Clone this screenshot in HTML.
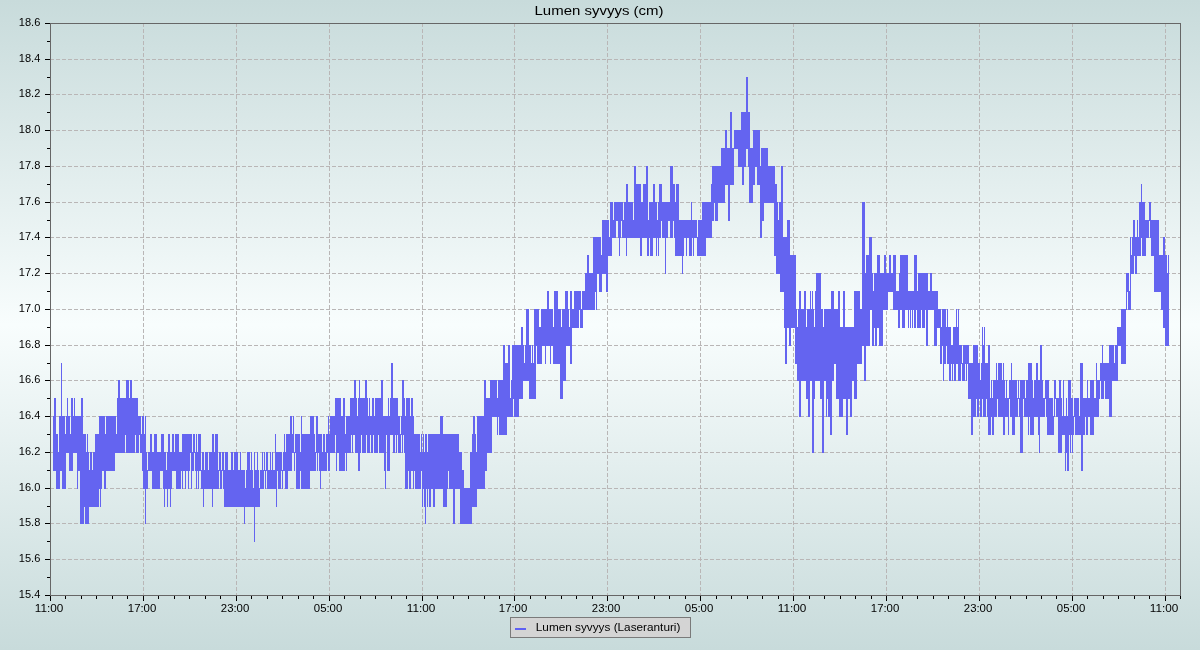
<!DOCTYPE html>
<html><head><meta charset="utf-8"><style>html,body{margin:0;padding:0;width:1200px;height:650px;overflow:hidden;background:#fff}</style></head>
<body><svg width="1200" height="650" viewBox="0 0 1200 650" style="position:absolute;left:0;top:0;will-change:transform">
<defs><linearGradient id="bg" x1="0" y1="0" x2="0" y2="1">
<stop offset="0" stop-color="#c8dbdb"/><stop offset="0.5" stop-color="#f8fdfd"/><stop offset="1" stop-color="#c8dbdb"/></linearGradient></defs>
<rect x="0" y="0" width="1200" height="650" fill="url(#bg)"/>
<path d="M50.5 23V595M143.5 23V595M236.5 23V595M329.5 23V595M422.5 23V595M514.5 23V595M607.5 23V595M700.5 23V595M793.5 23V595M886.5 23V595M979.5 23V595M1072.5 23V595M1165.5 23V595M50 23.5H1180M50 59.5H1180M50 94.5H1180M50 130.5H1180M50 166.5H1180M50 202.5H1180M50 237.5H1180M50 273.5H1180M50 309.5H1180M50 345.5H1180M50 380.5H1180M50 416.5H1180M50 452.5H1180M50 488.5H1180M50 523.5H1180M50 559.5H1180M50 595.5H1180" stroke="#b9b6b6" stroke-width="1" stroke-dasharray="4 2" fill="none"/>
<path d="M53 416h1v55h-1zM54 398h2v73h-2zM56 434h2v55h-2zM58 452h1v37h-1zM59 416h1v73h-1zM60 416h1v55h-1zM61 363h1v108h-1zM62 416h3v73h-3zM65 434h1v55h-1zM66 416h1v37h-1zM67 398h1v55h-1zM68 416h1v37h-1zM69 416h1v55h-1zM70 434h1v37h-1zM71 398h2v73h-2zM73 416h1v37h-1zM74 398h1v55h-1zM75 416h2v37h-2zM77 416h1v73h-1zM78 416h2v55h-2zM80 416h1v108h-1zM81 398h2v126h-2zM83 434h1v90h-1zM84 434h1v73h-1zM85 434h1v90h-1zM86 452h1v72h-1zM87 434h1v90h-1zM88 452h1v72h-1zM89 470h1v37h-1zM90 452h2v55h-2zM92 470h1v37h-1zM93 452h2v55h-2zM95 434h4v73h-4zM99 416h1v73h-1zM100 416h1v91h-1zM101 416h1v73h-1zM102 416h2v55h-2zM104 416h1v73h-1zM105 434h1v55h-1zM106 416h9v55h-9zM115 416h1v37h-1zM116 434h1v19h-1zM117 398h1v55h-1zM118 380h2v73h-2zM120 398h5v55h-5zM125 398h1v37h-1zM126 380h3v73h-3zM129 398h1v55h-1zM130 380h2v73h-2zM132 398h3v55h-3zM135 398h1v37h-1zM136 398h2v55h-2zM138 416h1v37h-1zM139 416h1v19h-1zM140 416h1v37h-1zM141 434h1v19h-1zM142 416h1v55h-1zM143 416h1v73h-1zM144 434h1v55h-1zM145 416h1v108h-1zM146 452h1v37h-1zM147 470h1v19h-1zM148 452h2v19h-2zM150 434h2v37h-2zM152 452h2v37h-2zM154 434h3v55h-3zM157 452h3v37h-3zM160 452h1v19h-1zM161 434h2v37h-2zM163 434h1v55h-1zM164 452h1v55h-1zM165 452h1v37h-1zM166 470h1v19h-1zM167 452h1v55h-1zM168 434h2v55h-2zM170 452h1v55h-1zM171 452h1v37h-1zM172 434h2v37h-2zM174 452h1v19h-1zM175 434h1v37h-1zM176 434h3v55h-3zM179 452h2v37h-2zM181 452h1v19h-1zM182 434h1v55h-1zM183 434h2v37h-2zM185 434h1v55h-1zM186 434h2v37h-2zM188 434h1v55h-1zM189 434h1v37h-1zM190 434h1v19h-1zM191 434h1v55h-1zM192 452h1v19h-1zM193 434h1v37h-1zM194 434h1v19h-1zM195 452h1v19h-1zM196 434h1v55h-1zM197 452h1v19h-1zM198 434h1v55h-1zM199 434h2v37h-2zM201 470h1v19h-1zM202 452h1v37h-1zM203 452h1v55h-1zM204 470h1v19h-1zM205 452h3v37h-3zM208 470h1v19h-1zM209 452h3v37h-3zM212 434h1v73h-1zM213 434h1v55h-1zM214 452h1v37h-1zM215 434h3v55h-3zM218 470h1v19h-1zM219 452h1v19h-1zM220 452h1v37h-1zM221 470h1v19h-1zM222 452h1v19h-1zM223 452h1v37h-1zM224 470h1v37h-1zM225 452h3v55h-3zM228 470h3v37h-3zM231 452h2v55h-2zM233 470h1v37h-1zM234 452h4v55h-4zM238 470h2v37h-2zM240 452h1v55h-1zM241 470h3v37h-3zM244 470h1v54h-1zM245 488h1v19h-1zM246 470h1v37h-1zM247 452h3v55h-3zM250 470h1v37h-1zM251 452h1v55h-1zM252 470h1v37h-1zM253 488h1v19h-1zM254 452h1v90h-1zM255 470h2v37h-2zM257 452h1v55h-1zM258 470h1v37h-1zM259 488h1v19h-1zM260 470h2v19h-2zM262 452h1v37h-1zM263 470h1v19h-1zM264 452h1v19h-1zM265 470h1v19h-1zM266 452h1v19h-1zM267 452h1v37h-1zM268 470h2v19h-2zM270 452h1v37h-1zM271 470h1v19h-1zM272 452h1v37h-1zM273 470h2v19h-2zM275 434h1v55h-1zM276 452h1v55h-1zM277 452h1v19h-1zM278 452h3v37h-3zM281 452h1v19h-1zM282 470h1v19h-1zM283 452h1v19h-1zM284 434h1v37h-1zM285 452h1v37h-1zM286 434h2v55h-2zM288 434h2v37h-2zM290 416h2v55h-2zM292 434h1v19h-1zM293 416h1v37h-1zM294 452h1v19h-1zM295 434h1v19h-1zM296 434h4v55h-4zM300 452h1v19h-1zM301 416h1v73h-1zM302 434h8v55h-8zM310 416h4v55h-4zM314 434h1v37h-1zM315 452h1v19h-1zM316 416h1v37h-1zM317 416h1v55h-1zM318 434h1v19h-1zM319 434h1v37h-1zM320 434h1v55h-1zM321 434h1v37h-1zM322 452h1v19h-1zM323 434h2v37h-2zM325 452h1v19h-1zM326 434h1v37h-1zM327 434h1v19h-1zM328 416h1v55h-1zM329 434h1v37h-1zM330 416h5v37h-5zM335 398h1v37h-1zM336 398h1v73h-1zM337 398h2v55h-2zM339 398h2v73h-2zM341 416h2v55h-2zM343 398h2v73h-2zM345 434h1v19h-1zM346 416h1v55h-1zM347 416h3v37h-3zM350 398h1v55h-1zM351 398h1v37h-1zM352 398h1v55h-1zM353 398h1v37h-1zM354 380h1v55h-1zM355 380h1v73h-1zM356 398h1v55h-1zM357 416h1v37h-1zM358 398h1v73h-1zM359 380h1v91h-1zM360 398h1v55h-1zM361 398h1v37h-1zM362 398h3v55h-3zM365 380h1v73h-1zM366 380h1v55h-1zM367 398h1v55h-1zM368 416h1v37h-1zM369 398h1v55h-1zM370 416h1v19h-1zM371 416h1v37h-1zM372 398h1v55h-1zM373 398h1v37h-1zM374 416h1v37h-1zM375 398h3v55h-3zM378 398h1v37h-1zM379 398h2v55h-2zM381 380h2v73h-2zM383 416h1v37h-1zM384 416h1v55h-1zM385 416h1v73h-1zM386 416h1v19h-1zM387 416h1v55h-1zM388 398h1v73h-1zM389 416h1v55h-1zM390 398h1v37h-1zM391 363h2v72h-2zM393 398h2v55h-2zM395 398h1v37h-1zM396 398h1v55h-1zM397 398h1v37h-1zM398 416h2v37h-2zM400 434h1v19h-1zM401 416h1v19h-1zM402 380h1v73h-1zM403 380h1v55h-1zM404 398h1v55h-1zM405 416h1v73h-1zM406 398h2v91h-2zM408 398h1v73h-1zM409 398h1v91h-1zM410 416h1v73h-1zM411 398h2v73h-2zM413 416h1v73h-1zM414 434h1v37h-1zM415 434h5v55h-5zM420 452h1v37h-1zM421 434h1v37h-1zM422 452h1v55h-1zM423 434h1v55h-1zM424 452h1v55h-1zM425 434h1v90h-1zM426 434h1v55h-1zM427 452h1v55h-1zM428 434h1v55h-1zM429 434h2v73h-2zM431 434h2v55h-2zM433 434h2v73h-2zM435 434h5v55h-5zM440 416h3v73h-3zM443 434h4v73h-4zM447 434h1v55h-1zM448 434h1v37h-1zM449 434h4v55h-4zM453 434h2v90h-2zM455 434h4v55h-4zM459 452h1v37h-1zM460 452h2v72h-2zM462 470h2v54h-2zM464 488h6v36h-6zM470 452h2v72h-2zM472 434h1v73h-1zM473 416h2v91h-2zM475 434h1v73h-1zM476 452h1v55h-1zM477 416h7v73h-7zM484 380h1v109h-1zM485 380h1v91h-1zM486 398h1v73h-1zM487 398h3v55h-3zM490 380h2v73h-2zM492 380h5v37h-5zM497 398h1v37h-1zM498 380h1v37h-1zM499 380h4v55h-4zM503 345h2v90h-2zM505 363h2v72h-2zM507 363h1v54h-1zM508 345h2v72h-2zM510 398h1v19h-1zM511 380h1v37h-1zM512 345h1v72h-1zM513 345h1v54h-1zM514 345h5v72h-5zM519 345h2v54h-2zM521 327h2v72h-2zM523 345h1v36h-1zM524 363h1v18h-1zM525 345h1v36h-1zM526 309h3v72h-3zM529 345h2v54h-2zM531 363h1v36h-1zM532 345h1v54h-1zM533 363h1v36h-1zM534 309h2v90h-2zM536 309h1v37h-1zM537 309h2v55h-2zM539 327h2v37h-2zM541 309h1v55h-1zM542 309h3v37h-3zM545 309h1v55h-1zM546 309h1v37h-1zM547 291h2v55h-2zM549 309h1v37h-1zM550 309h1v55h-1zM551 309h2v37h-2zM553 327h1v37h-1zM554 291h4v73h-4zM558 309h2v55h-2zM560 309h1v90h-1zM561 327h1v72h-1zM562 309h1v90h-1zM563 309h2v72h-2zM565 291h1v90h-1zM566 291h2v55h-2zM568 309h1v37h-1zM569 327h1v19h-1zM570 291h2v73h-2zM572 309h2v19h-2zM574 291h5v37h-5zM579 291h1v19h-1zM580 291h1v37h-1zM581 309h1v19h-1zM582 291h1v37h-1zM583 291h2v19h-2zM585 273h2v37h-2zM587 255h2v55h-2zM589 273h4v37h-4zM593 237h2v73h-2zM595 237h1v55h-1zM596 237h1v73h-1zM597 237h2v37h-2zM599 237h2v55h-2zM601 255h1v37h-1zM602 220h4v54h-4zM606 220h2v72h-2zM608 220h1v36h-1zM609 237h1v19h-1zM610 202h2v54h-2zM612 202h1v36h-1zM613 220h1v18h-1zM614 202h2v36h-2zM616 202h2v19h-2zM618 202h1v36h-1zM619 202h1v54h-1zM620 202h1v36h-1zM621 202h1v19h-1zM622 202h1v36h-1zM623 220h1v18h-1zM624 202h2v36h-2zM626 184h1v72h-1zM627 184h1v54h-1zM628 202h5v36h-5zM633 220h1v18h-1zM634 166h2v72h-2zM636 184h4v54h-4zM640 184h1v72h-1zM641 202h1v54h-1zM642 202h1v36h-1zM643 184h3v54h-3zM646 166h1v72h-1zM647 166h1v90h-1zM648 220h1v36h-1zM649 202h1v36h-1zM650 202h3v54h-3zM653 184h2v54h-2zM655 202h1v36h-1zM656 202h1v54h-1zM657 220h1v18h-1zM658 202h1v54h-1zM659 184h2v54h-2zM661 184h1v37h-1zM662 202h3v36h-3zM665 202h1v72h-1zM666 202h2v36h-2zM668 202h2v19h-2zM670 166h3v72h-3zM673 184h1v37h-1zM674 184h1v54h-1zM675 202h1v54h-1zM676 184h3v72h-3zM679 220h3v36h-3zM682 220h1v54h-1zM683 220h1v36h-1zM684 220h2v18h-2zM686 220h1v36h-1zM687 220h2v18h-2zM689 220h2v36h-2zM691 202h1v54h-1zM692 220h1v18h-1zM693 220h1v36h-1zM694 220h3v18h-3zM697 237h1v19h-1zM698 220h4v36h-4zM702 202h4v54h-4zM706 202h5v36h-5zM711 184h1v54h-1zM712 166h2v55h-2zM714 166h1v37h-1zM715 166h3v55h-3zM718 166h3v37h-3zM721 148h4v55h-4zM725 130h2v55h-2zM727 148h1v37h-1zM728 148h2v73h-2zM730 112h2v73h-2zM732 148h2v37h-2zM734 130h4v19h-4zM738 130h3v37h-3zM741 112h1v55h-1zM742 112h2v73h-2zM744 112h2v55h-2zM746 77h2v72h-2zM748 112h1v55h-1zM749 112h1v91h-1zM750 148h3v55h-3zM753 130h2v55h-2zM755 130h2v37h-2zM757 130h3v55h-3zM760 166h1v72h-1zM761 148h1v90h-1zM762 148h2v73h-2zM764 148h4v55h-4zM768 166h6v37h-6zM774 166h1v90h-1zM775 184h1v72h-1zM776 184h1v90h-1zM777 202h1v72h-1zM778 220h1v54h-1zM779 202h1v72h-1zM780 202h1v90h-1zM781 166h2v126h-2zM783 237h1v55h-1zM784 237h1v91h-1zM785 237h2v127h-2zM787 220h2v108h-2zM789 220h1v126h-1zM790 255h1v91h-1zM791 255h4v73h-4zM795 255h1v109h-1zM796 309h1v55h-1zM797 327h1v54h-1zM798 309h1v72h-1zM799 291h2v126h-2zM801 309h3v72h-3zM804 291h2v90h-2zM806 327h1v72h-1zM807 309h1v90h-1zM808 309h2v108h-2zM810 291h1v90h-1zM811 309h1v72h-1zM812 291h1v162h-1zM813 309h1v144h-1zM814 327h1v72h-1zM815 291h1v90h-1zM816 273h4v108h-4zM820 273h1v126h-1zM821 309h1v90h-1zM822 309h1v144h-1zM823 327h1v126h-1zM824 309h2v72h-2zM826 309h1v108h-1zM827 309h1v90h-1zM828 309h2v108h-2zM830 309h1v126h-1zM831 291h1v144h-1zM832 291h2v90h-2zM834 309h2v55h-2zM836 309h2v90h-2zM838 291h1v108h-1zM839 291h1v126h-1zM840 327h3v90h-3zM843 291h2v108h-2zM845 327h1v72h-1zM846 327h2v108h-2zM848 327h2v72h-2zM850 327h2v90h-2zM852 327h2v54h-2zM854 291h3v108h-3zM857 291h3v73h-3zM860 309h2v55h-2zM862 202h2v144h-2zM864 202h1v179h-1zM865 273h1v108h-1zM866 255h3v91h-3zM869 237h1v109h-1zM870 237h2v73h-2zM872 273h1v73h-1zM873 291h1v55h-1zM874 273h1v55h-1zM875 273h2v73h-2zM877 255h2v73h-2zM879 255h1v91h-1zM880 273h3v73h-3zM883 273h1v37h-1zM884 255h2v55h-2zM886 273h2v37h-2zM888 273h1v19h-1zM889 255h2v37h-2zM891 273h2v19h-2zM893 255h3v55h-3zM896 291h2v19h-2zM898 291h1v37h-1zM899 273h1v55h-1zM900 255h2v55h-2zM902 255h3v73h-3zM905 255h3v55h-3zM908 291h1v37h-1zM909 291h1v19h-1zM910 291h1v37h-1zM911 291h1v19h-1zM912 291h1v37h-1zM913 291h1v19h-1zM914 255h2v73h-2zM916 255h1v55h-1zM917 291h1v37h-1zM918 273h3v55h-3zM921 273h1v37h-1zM922 273h3v55h-3zM925 273h1v37h-1zM926 273h2v73h-2zM928 291h2v19h-2zM930 273h2v37h-2zM932 291h2v19h-2zM934 291h3v55h-3zM937 291h1v37h-1zM938 309h2v19h-2zM940 309h1v55h-1zM941 327h1v37h-1zM942 309h1v37h-1zM943 309h1v72h-1zM944 309h2v55h-2zM946 327h1v19h-1zM947 309h1v55h-1zM948 327h1v37h-1zM949 327h2v54h-2zM951 345h1v19h-1zM952 345h1v36h-1zM953 327h1v37h-1zM954 327h2v54h-2zM956 309h1v55h-1zM957 327h1v37h-1zM958 309h1v72h-1zM959 345h2v36h-2zM961 345h1v19h-1zM962 363h1v18h-1zM963 345h2v36h-2zM965 345h1v19h-1zM966 345h1v36h-1zM967 345h1v19h-1zM968 345h1v54h-1zM969 363h2v36h-2zM971 363h2v72h-2zM973 345h3v72h-3zM976 345h1v54h-1zM977 345h1v72h-1zM978 363h1v54h-1zM979 363h1v36h-1zM980 380h1v37h-1zM981 363h1v54h-1zM982 327h1v72h-1zM983 345h1v72h-1zM984 327h1v90h-1zM985 363h1v54h-1zM986 363h1v36h-1zM987 363h1v54h-1zM988 345h2v90h-2zM990 398h1v37h-1zM991 380h1v37h-1zM992 398h1v37h-1zM993 380h1v55h-1zM994 380h2v37h-2zM996 363h1v54h-1zM997 380h1v19h-1zM998 363h4v54h-4zM1002 380h1v37h-1zM1003 363h1v72h-1zM1004 380h1v55h-1zM1005 398h1v19h-1zM1006 380h1v37h-1zM1007 398h1v19h-1zM1008 398h1v37h-1zM1009 380h1v19h-1zM1010 380h1v37h-1zM1011 363h1v54h-1zM1012 380h3v55h-3zM1015 380h2v37h-2zM1017 398h1v19h-1zM1018 380h1v19h-1zM1019 398h1v19h-1zM1020 380h3v73h-3zM1023 380h1v19h-1zM1024 380h1v37h-1zM1025 398h1v19h-1zM1026 380h2v37h-2zM1028 363h1v72h-1zM1029 363h1v54h-1zM1030 363h2v72h-2zM1032 380h1v55h-1zM1033 398h1v37h-1zM1034 380h2v37h-2zM1036 363h2v54h-2zM1038 380h1v55h-1zM1039 380h1v73h-1zM1040 345h2v72h-2zM1042 380h1v37h-1zM1043 398h2v19h-2zM1045 380h1v19h-1zM1046 380h1v37h-1zM1047 380h2v55h-2zM1049 398h4v37h-4zM1053 416h1v19h-1zM1054 380h1v37h-1zM1055 380h1v19h-1zM1056 398h2v19h-2zM1058 398h1v55h-1zM1059 380h2v73h-2zM1061 398h1v55h-1zM1062 416h1v19h-1zM1063 380h1v55h-1zM1064 416h1v19h-1zM1065 416h1v55h-1zM1066 398h1v55h-1zM1067 416h1v55h-1zM1068 380h1v91h-1zM1069 380h1v55h-1zM1070 380h1v73h-1zM1071 398h1v37h-1zM1072 398h1v55h-1zM1073 416h1v19h-1zM1074 398h1v19h-1zM1075 398h4v37h-4zM1079 416h1v19h-1zM1080 363h1v72h-1zM1081 363h2v108h-2zM1083 398h2v37h-2zM1085 398h1v19h-1zM1086 398h1v37h-1zM1087 380h1v55h-1zM1088 398h2v19h-2zM1090 380h4v55h-4zM1094 398h2v19h-2zM1096 363h1v54h-1zM1097 380h2v37h-2zM1099 380h1v19h-1zM1100 363h1v18h-1zM1101 363h1v36h-1zM1102 345h1v54h-1zM1103 363h1v36h-1zM1104 363h1v18h-1zM1105 363h4v36h-4zM1109 345h3v72h-3zM1112 345h2v36h-2zM1114 363h1v18h-1zM1115 345h2v36h-2zM1117 327h1v54h-1zM1118 327h3v19h-3zM1121 309h5v55h-5zM1126 273h1v37h-1zM1127 273h1v19h-1zM1128 273h1v37h-1zM1129 291h1v19h-1zM1130 237h1v73h-1zM1131 255h1v19h-1zM1132 237h1v37h-1zM1133 220h1v54h-1zM1134 220h1v36h-1zM1135 237h2v37h-2zM1137 220h1v36h-1zM1138 237h1v19h-1zM1139 202h2v54h-2zM1141 184h1v54h-1zM1142 202h3v54h-3zM1145 220h1v36h-1zM1146 220h3v18h-3zM1149 202h1v19h-1zM1150 202h1v36h-1zM1151 220h3v36h-3zM1154 220h5v72h-5zM1159 255h2v37h-2zM1161 255h2v55h-2zM1163 237h2v91h-2zM1165 255h2v91h-2zM1167 273h1v73h-1zM1168 255h1v91h-1z" fill="#6464f0" shape-rendering="crispEdges"/>
<path d="M50.5 23V596M50 23.5H1181M1180.5 23V596M50 595.5H1181" stroke="#666" stroke-width="1" fill="none" shape-rendering="crispEdges"/>
<path d="M45 23.5H50M47 41.5H50M45 59.5H50M47 77.5H50M45 94.5H50M47 112.5H50M45 130.5H50M47 148.5H50M45 166.5H50M47 184.5H50M45 202.5H50M47 220.5H50M45 237.5H50M47 255.5H50M45 273.5H50M47 291.5H50M45 309.5H50M47 327.5H50M45 345.5H50M47 363.5H50M45 380.5H50M47 398.5H50M45 416.5H50M47 434.5H50M45 452.5H50M47 470.5H50M45 488.5H50M47 506.5H50M45 523.5H50M47 541.5H50M45 559.5H50M47 577.5H50M45 595.5H50M50.5 596V601M65.5 596V599M81.5 596V599M96.5 596V599M112.5 596V599M127.5 596V599M143.5 596V601M158.5 596V599M174.5 596V599M189.5 596V599M205.5 596V599M220.5 596V599M236.5 596V601M251.5 596V599M267.5 596V599M282.5 596V599M298.5 596V599M313.5 596V599M329.5 596V601M344.5 596V599M360.5 596V599M375.5 596V599M391.5 596V599M406.5 596V599M422.5 596V601M437.5 596V599M453.5 596V599M468.5 596V599M484.5 596V599M499.5 596V599M514.5 596V601M530.5 596V599M545.5 596V599M561.5 596V599M576.5 596V599M592.5 596V599M607.5 596V601M623.5 596V599M638.5 596V599M654.5 596V599M669.5 596V599M685.5 596V599M700.5 596V601M716.5 596V599M731.5 596V599M747.5 596V599M762.5 596V599M778.5 596V599M793.5 596V601M809.5 596V599M824.5 596V599M840.5 596V599M855.5 596V599M871.5 596V599M886.5 596V601M902.5 596V599M917.5 596V599M933.5 596V599M948.5 596V599M964.5 596V599M979.5 596V601M995.5 596V599M1010.5 596V599M1026.5 596V599M1041.5 596V599M1056.5 596V599M1072.5 596V601M1087.5 596V599M1103.5 596V599M1118.5 596V599M1134.5 596V599M1149.5 596V599M1165.5 596V601M1180.5 596V599" stroke="#000" stroke-width="1" fill="none" shape-rendering="crispEdges"/>
<text x="534.5" y="14.6" font-family="Liberation Sans, sans-serif" font-size="13" textLength="129" lengthAdjust="spacingAndGlyphs" fill="#000">Lumen syvyys (cm)</text>
<text x="18.8" y="26" font-family="Liberation Sans, sans-serif" font-size="10.3" textLength="21.5" lengthAdjust="spacingAndGlyphs" fill="#000">18.6</text>
<text x="18.8" y="62" font-family="Liberation Sans, sans-serif" font-size="10.3" textLength="21.5" lengthAdjust="spacingAndGlyphs" fill="#000">18.4</text>
<text x="18.8" y="97" font-family="Liberation Sans, sans-serif" font-size="10.3" textLength="21.5" lengthAdjust="spacingAndGlyphs" fill="#000">18.2</text>
<text x="18.8" y="133" font-family="Liberation Sans, sans-serif" font-size="10.3" textLength="21.5" lengthAdjust="spacingAndGlyphs" fill="#000">18.0</text>
<text x="18.8" y="169" font-family="Liberation Sans, sans-serif" font-size="10.3" textLength="21.5" lengthAdjust="spacingAndGlyphs" fill="#000">17.8</text>
<text x="18.8" y="205" font-family="Liberation Sans, sans-serif" font-size="10.3" textLength="21.5" lengthAdjust="spacingAndGlyphs" fill="#000">17.6</text>
<text x="18.8" y="240" font-family="Liberation Sans, sans-serif" font-size="10.3" textLength="21.5" lengthAdjust="spacingAndGlyphs" fill="#000">17.4</text>
<text x="18.8" y="276" font-family="Liberation Sans, sans-serif" font-size="10.3" textLength="21.5" lengthAdjust="spacingAndGlyphs" fill="#000">17.2</text>
<text x="18.8" y="312" font-family="Liberation Sans, sans-serif" font-size="10.3" textLength="21.5" lengthAdjust="spacingAndGlyphs" fill="#000">17.0</text>
<text x="18.8" y="348" font-family="Liberation Sans, sans-serif" font-size="10.3" textLength="21.5" lengthAdjust="spacingAndGlyphs" fill="#000">16.8</text>
<text x="18.8" y="383" font-family="Liberation Sans, sans-serif" font-size="10.3" textLength="21.5" lengthAdjust="spacingAndGlyphs" fill="#000">16.6</text>
<text x="18.8" y="419" font-family="Liberation Sans, sans-serif" font-size="10.3" textLength="21.5" lengthAdjust="spacingAndGlyphs" fill="#000">16.4</text>
<text x="18.8" y="455" font-family="Liberation Sans, sans-serif" font-size="10.3" textLength="21.5" lengthAdjust="spacingAndGlyphs" fill="#000">16.2</text>
<text x="18.8" y="491" font-family="Liberation Sans, sans-serif" font-size="10.3" textLength="21.5" lengthAdjust="spacingAndGlyphs" fill="#000">16.0</text>
<text x="18.8" y="526" font-family="Liberation Sans, sans-serif" font-size="10.3" textLength="21.5" lengthAdjust="spacingAndGlyphs" fill="#000">15.8</text>
<text x="18.8" y="562" font-family="Liberation Sans, sans-serif" font-size="10.3" textLength="21.5" lengthAdjust="spacingAndGlyphs" fill="#000">15.6</text>
<text x="18.8" y="598" font-family="Liberation Sans, sans-serif" font-size="10.3" textLength="21.5" lengthAdjust="spacingAndGlyphs" fill="#000">15.4</text>
<text x="34.8" y="612" font-family="Liberation Sans, sans-serif" font-size="10.3" textLength="28.5" lengthAdjust="spacingAndGlyphs" fill="#000">11:00</text>
<text x="127.8" y="612" font-family="Liberation Sans, sans-serif" font-size="10.3" textLength="28.5" lengthAdjust="spacingAndGlyphs" fill="#000">17:00</text>
<text x="220.8" y="612" font-family="Liberation Sans, sans-serif" font-size="10.3" textLength="28.5" lengthAdjust="spacingAndGlyphs" fill="#000">23:00</text>
<text x="313.8" y="612" font-family="Liberation Sans, sans-serif" font-size="10.3" textLength="28.5" lengthAdjust="spacingAndGlyphs" fill="#000">05:00</text>
<text x="406.8" y="612" font-family="Liberation Sans, sans-serif" font-size="10.3" textLength="28.5" lengthAdjust="spacingAndGlyphs" fill="#000">11:00</text>
<text x="498.8" y="612" font-family="Liberation Sans, sans-serif" font-size="10.3" textLength="28.5" lengthAdjust="spacingAndGlyphs" fill="#000">17:00</text>
<text x="591.8" y="612" font-family="Liberation Sans, sans-serif" font-size="10.3" textLength="28.5" lengthAdjust="spacingAndGlyphs" fill="#000">23:00</text>
<text x="684.8" y="612" font-family="Liberation Sans, sans-serif" font-size="10.3" textLength="28.5" lengthAdjust="spacingAndGlyphs" fill="#000">05:00</text>
<text x="777.8" y="612" font-family="Liberation Sans, sans-serif" font-size="10.3" textLength="28.5" lengthAdjust="spacingAndGlyphs" fill="#000">11:00</text>
<text x="870.8" y="612" font-family="Liberation Sans, sans-serif" font-size="10.3" textLength="28.5" lengthAdjust="spacingAndGlyphs" fill="#000">17:00</text>
<text x="963.8" y="612" font-family="Liberation Sans, sans-serif" font-size="10.3" textLength="28.5" lengthAdjust="spacingAndGlyphs" fill="#000">23:00</text>
<text x="1056.8" y="612" font-family="Liberation Sans, sans-serif" font-size="10.3" textLength="28.5" lengthAdjust="spacingAndGlyphs" fill="#000">05:00</text>
<text x="1149.8" y="612" font-family="Liberation Sans, sans-serif" font-size="10.3" textLength="28.5" lengthAdjust="spacingAndGlyphs" fill="#000">11:00</text>
<rect x="510.5" y="617.5" width="180" height="20" fill="#d4d4d4" stroke="#7a7a7a" stroke-width="1"/>
<rect x="515" y="628" width="11" height="2" fill="#6060f4"/>
<text x="535.8" y="631" font-family="Liberation Sans, sans-serif" font-size="10.3" textLength="144.6" lengthAdjust="spacingAndGlyphs" fill="#000">Lumen syvyys (Laseranturi)</text>
</svg></body></html>
